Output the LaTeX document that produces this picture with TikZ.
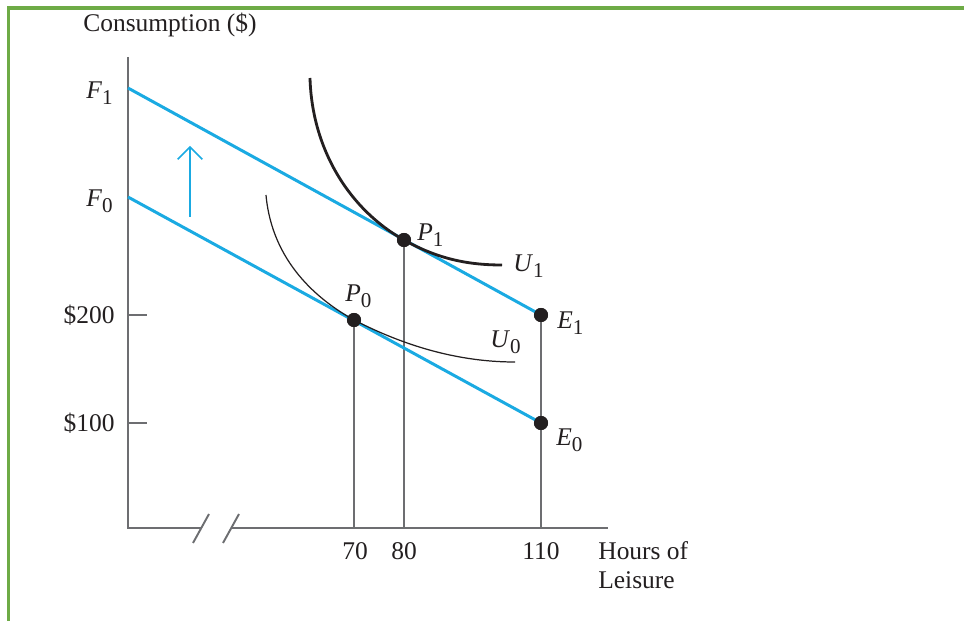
\documentclass[tikz,border=0pt]{standalone}
\usepackage{fontspec}
\setmainfont{Liberation Serif}
\usetikzlibrary{arrows.meta}
\definecolor{budget}{HTML}{1AAAE2}
\definecolor{axisgray}{HTML}{6D6E71}
\definecolor{framegreen}{HTML}{6EAB46}
\definecolor{ink}{HTML}{231F20}
\newcommand{\ptlabel}[2]{\textit{#1}\raisebox{-3.2pt}{\fontsize{12}{12}\selectfont #2}}
\tikzset{
  txt/.style={font=\fontsize{14.5}{16.5}\selectfont, text=ink, inner sep=0pt},
  axisline/.style={draw=axisgray, line width=1.1pt},
  dropline/.style={draw=axisgray, line width=0.8pt},
  budgetline/.style={draw=budget, line width=1.7pt},
  dot/.style={circle, fill=ink, minimum size=8pt, inner sep=0pt},
  indiffthick/.style={draw=ink, line width=1.6pt},
  indiffthin/.style={draw=ink, line width=0.7pt},
}

\begin{document}
\begin{tikzpicture}[x=0.02cm, y=-0.02cm]
    \useasboundingbox (0,0) rectangle (964,621);
    \draw[framegreen, line width=1.9pt] (8.5,621) -- (8.5,8) -- (964,8);
    % axes
    \coordinate (ytop) at (128,57);
    \coordinate (orig) at (128,528);
    \coordinate (brk1) at (201,528);
    \coordinate (brk2) at (231,528);
    \coordinate (xend) at (608,528);
    \draw[axisline] (ytop) -- (orig) -- (brk1);
    \draw[axisline] (brk2) -- (xend);
    \draw[axisline] (193,543) -- (209,514);
    \draw[axisline] (223,543) -- (239,514);
    \coordinate (t200) at (128,315);
    \coordinate (t100) at (128,423);
    \draw[axisline] (t200) -- ++(19,0);
    \draw[axisline] (t100) -- ++(19,0);
    % points
    \coordinate (F1) at (128,88);
    \coordinate (F0) at (128,197);
    \node[dot] (E1) at (541,315) {};
    \node[dot] (E0) at (541,423) {};
    \node[dot] (P1) at (404,240) {};
    \node[dot] (P0) at (354,320) {};
    % drop lines
    \draw[dropline] (P0.center) -- (P0 |- orig);
    \draw[dropline] (P1.center) -- (P1 |- orig);
    \draw[dropline] (E1.center) -- (E1 |- orig);
    % budget lines
    \draw[budgetline] (F1) -- (E1.center);
    \draw[budgetline] (F0) -- (E0.center);
    \coordinate (arrtail) at (190,217);
    \coordinate (arrtip) at (190,146);
    \draw[budget, line width=0.9pt, -{Straight Barb[length=7pt, width=14pt]}] (arrtail) -- (arrtip);
    % indifference curves
    \draw[indiffthick] (310,78) .. controls (312,150) and (350,210) .. (P1.center)
                              .. controls (438,259) and (468,265) .. (502,265);
    \draw[indiffthin] (266,195) .. controls (272,262) and (318,300) .. (P0.center)
                             .. controls (395,341) and (450,362) .. (515,362);
    \node[dot] at (P1) {};
    \node[dot] at (P0) {};
    \node[dot] at (E1) {};
    \node[dot] at (E0) {};
    % labels
    \node[txt] (ylab) at (170,25) {Consumption (\$)};
    \node[txt, anchor=base east] (F1lab) at (113,99) {\ptlabel{F}{1}};
    \node[txt, anchor=base east] (F0lab) at (113,207) {\ptlabel{F}{0}};
    \node[txt, anchor=east] (l200) at (115,315) {\$200};
    \node[txt, anchor=east] (l100) at (115,423) {\$100};
    \node[txt, anchor=base west] (P1lab) at (417,241) {\ptlabel{P}{1}};
    \node[txt, anchor=base west] (P0lab) at (345,302) {\ptlabel{P}{0}};
    \node[txt, anchor=base west] (U1lab) at (513,272) {\ptlabel{U}{1}};
    \node[txt, anchor=base west] (U0lab) at (490,348) {\ptlabel{U}{0}};
    \node[txt, anchor=base west] (E1lab) at (557,329) {\ptlabel{E}{1}};
    \node[txt, anchor=base west] (E0lab) at (556,446) {\ptlabel{E}{0}};
    \node[txt] (x70) at (355,551) {70};
    \node[txt] (x80) at (404,551) {80};
    \node[txt] (x110) at (541,551) {110};
    \node[txt, anchor=north west, align=left] (xlab) at (598,541) {Hours of\\Leisure};
\end{tikzpicture}
\end{document}
